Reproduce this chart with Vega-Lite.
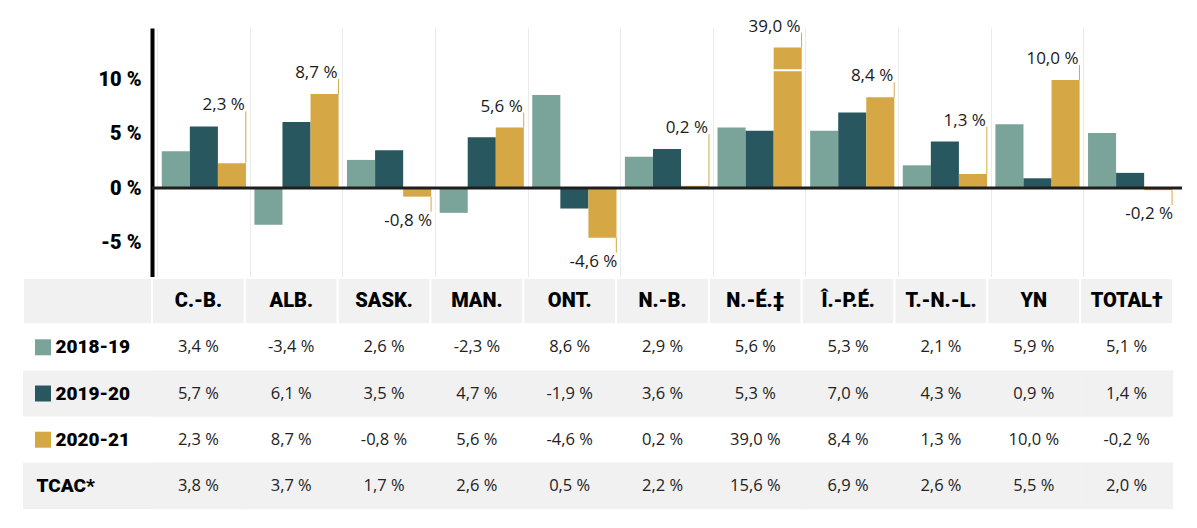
{
  "$schema": "https://vega.github.io/schema/vega-lite/v6.json",
  "background": "white",
  "padding": {"left": 22, "top": 17, "right": 10, "bottom": 10},
  "config": {
    "view": {"stroke": null},
    "font": "Open Sans",
    "locale": {"number": {"decimal": ",", "thousands": " ", "grouping": [3], "currency": ["", " €"], "percent": " %", "minus": "-"}}
  },
  "datasets": {
    "d": [
      {"cat": "C.-B.", "series": "2018-19", "v": 0.034}, {"cat": "C.-B.", "series": "2019-20", "v": 0.057}, {"cat": "C.-B.", "series": "2020-21", "v": 0.023}, {"cat": "C.-B.", "series": "TCAC*", "v": 0.038},
      {"cat": "ALB.", "series": "2018-19", "v": -0.034}, {"cat": "ALB.", "series": "2019-20", "v": 0.061}, {"cat": "ALB.", "series": "2020-21", "v": 0.087}, {"cat": "ALB.", "series": "TCAC*", "v": 0.037},
      {"cat": "SASK.", "series": "2018-19", "v": 0.026}, {"cat": "SASK.", "series": "2019-20", "v": 0.035}, {"cat": "SASK.", "series": "2020-21", "v": -0.008}, {"cat": "SASK.", "series": "TCAC*", "v": 0.017},
      {"cat": "MAN.", "series": "2018-19", "v": -0.023}, {"cat": "MAN.", "series": "2019-20", "v": 0.047}, {"cat": "MAN.", "series": "2020-21", "v": 0.056}, {"cat": "MAN.", "series": "TCAC*", "v": 0.026},
      {"cat": "ONT.", "series": "2018-19", "v": 0.086}, {"cat": "ONT.", "series": "2019-20", "v": -0.019}, {"cat": "ONT.", "series": "2020-21", "v": -0.046}, {"cat": "ONT.", "series": "TCAC*", "v": 0.005},
      {"cat": "N.-B.", "series": "2018-19", "v": 0.029}, {"cat": "N.-B.", "series": "2019-20", "v": 0.036}, {"cat": "N.-B.", "series": "2020-21", "v": 0.002}, {"cat": "N.-B.", "series": "TCAC*", "v": 0.022},
      {"cat": "N.-É.‡", "series": "2018-19", "v": 0.056}, {"cat": "N.-É.‡", "series": "2019-20", "v": 0.053}, {"cat": "N.-É.‡", "series": "2020-21", "v": 0.39}, {"cat": "N.-É.‡", "series": "TCAC*", "v": 0.156},
      {"cat": "Î.-P.É.", "series": "2018-19", "v": 0.053}, {"cat": "Î.-P.É.", "series": "2019-20", "v": 0.07}, {"cat": "Î.-P.É.", "series": "2020-21", "v": 0.084}, {"cat": "Î.-P.É.", "series": "TCAC*", "v": 0.069},
      {"cat": "T.-N.-L.", "series": "2018-19", "v": 0.021}, {"cat": "T.-N.-L.", "series": "2019-20", "v": 0.043}, {"cat": "T.-N.-L.", "series": "2020-21", "v": 0.013}, {"cat": "T.-N.-L.", "series": "TCAC*", "v": 0.026},
      {"cat": "YN", "series": "2018-19", "v": 0.059}, {"cat": "YN", "series": "2019-20", "v": 0.009}, {"cat": "YN", "series": "2020-21", "v": 0.1}, {"cat": "YN", "series": "TCAC*", "v": 0.055},
      {"cat": "TOTAL†", "series": "2018-19", "v": 0.051}, {"cat": "TOTAL†", "series": "2019-20", "v": 0.014}, {"cat": "TOTAL†", "series": "2020-21", "v": -0.002}, {"cat": "TOTAL†", "series": "TCAC*", "v": 0.02}
    ]
  },
  "columns": 2,
  "spacing": 0,
  "bounds": "flush",
  "concat": [
    {
      "width": 129, "height": 250,
      "data": {"values": [{}]},
      "mark": {"type": "point", "opacity": 0},
      "encoding": {}
    },
    {
      "width": 1030, "height": 250,
      "data": {"name": "d"},
      "transform": [
        {"filter": "datum.series !== 'TCAC*'"},
        {"calculate": "min(datum.v, 0.13)", "as": "vd"}
      ],
      "layer": [
        {
          "mark": {"type": "bar"},
          "encoding": {
            "x": {"field": "cat", "type": "nominal", "sort": ["C.-B.","ALB.","SASK.","MAN.","ONT.","N.-B.","N.-É.‡","Î.-P.É.","T.-N.-L.","YN","TOTAL†"], "scale": {"paddingInner": 0, "paddingOuter": 0.06}, "axis": {"title": null, "labels": false, "ticks": false, "domain": false, "grid": true, "bandPosition": 0, "gridColor": "#ebebeb", "gridWidth": 1}},
            "xOffset": {"field": "series", "type": "nominal", "sort": ["2018-19","2019-20","2020-21"], "scale": {"paddingInner": 0, "paddingOuter": 0.15}},
            "y": {"field": "vd", "type": "quantitative", "scale": {"domain": [-0.0833, 0.1481], "nice": false, "zero": false}, "axis": {"title": null, "values": [-0.05, 0, 0.05, 0.1], "format": ".0%", "labelFont": "Roboto", "labelFontWeight": 900, "labelFontSize": 20, "labelColor": "#000", "labelPadding": 11, "ticks": false, "grid": false, "domainColor": "#000", "domainWidth": 4}},
            "color": {"field": "series", "type": "nominal", "scale": {"domain": ["2018-19","2019-20","2020-21"], "range": ["#7aa39a", "#28575f", "#d5a845"]}, "legend": null}
          }
        },
        {
          "data": {"values": [{}]},
          "mark": {"type": "rule", "color": "#1e1e1e", "strokeWidth": 3},
          "encoding": {"y": {"datum": 0, "type": "quantitative", "scale": {"domain": [-0.0833, 0.1481], "nice": false, "zero": false}}}
        },
        {
          "transform": [{"filter": "datum.v > 0.13"}],
          "mark": {"type": "tick", "color": "white", "thickness": 2, "size": 30, "opacity": 1},
          "encoding": {
            "x": {"field": "cat", "type": "nominal", "sort": ["C.-B.","ALB.","SASK.","MAN.","ONT.","N.-B.","N.-É.‡","Î.-P.É.","T.-N.-L.","YN","TOTAL†"]},
            "xOffset": {"field": "series", "type": "nominal", "sort": ["2018-19","2019-20","2020-21"]},
            "y": {"datum": 0.109, "type": "quantitative", "scale": {"domain": [-0.0833, 0.1481], "nice": false, "zero": false}}
          }
        },
        {
          "transform": [
            {"filter": "datum.series !== '2018-19'"},
            {"joinaggregate": [{"op": "max", "field": "vd", "as": "mx"}], "groupby": ["cat"]},
            {"filter": "datum.series === '2020-21'"},
            {"calculate": "datum.v >= 0 ? datum.mx : datum.vd", "as": "anchor"}
          ],
          "layer": [
            {
              "transform": [{"filter": "datum.v >= 0"}],
              "mark": {"type": "rule", "color": "#d5a845", "strokeWidth": 1, "y2Offset": -15},
              "encoding": {
                "x": {"field": "cat", "type": "nominal", "sort": ["C.-B.","ALB.","SASK.","MAN.","ONT.","N.-B.","N.-É.‡","Î.-P.É.","T.-N.-L.","YN","TOTAL†"], "bandPosition": 0.953},
                "y": {"field": "vd", "type": "quantitative", "scale": {"domain": [-0.0833, 0.1481], "nice": false, "zero": false}},
                "y2": {"field": "anchor"}
              }
            },
            {
              "transform": [{"filter": "datum.v < 0"}],
              "mark": {"type": "rule", "color": "#d5a845", "strokeWidth": 1, "y2Offset": 15},
              "encoding": {
                "x": {"field": "cat", "type": "nominal", "sort": ["C.-B.","ALB.","SASK.","MAN.","ONT.","N.-B.","N.-É.‡","Î.-P.É.","T.-N.-L.","YN","TOTAL†"], "bandPosition": 0.953},
                "y": {"field": "vd", "type": "quantitative", "scale": {"domain": [-0.0833, 0.1481], "nice": false, "zero": false}},
                "y2": {"field": "anchor"}
              }
            },
            {
              "transform": [{"filter": "datum.v >= 0"}],
              "mark": {"type": "text", "align": "right", "baseline": "alphabetic", "dy": -16, "dx": -1, "font": "Open Sans", "fontSize": 17, "color": "#1a1a1a"},
              "encoding": {
                "x": {"field": "cat", "type": "nominal", "sort": ["C.-B.","ALB.","SASK.","MAN.","ONT.","N.-B.","N.-É.‡","Î.-P.É.","T.-N.-L.","YN","TOTAL†"], "bandPosition": 0.953},
                "y": {"field": "anchor", "type": "quantitative", "scale": {"domain": [-0.0833, 0.1481], "nice": false, "zero": false}},
                "text": {"field": "v", "type": "quantitative", "format": ".1%"}
              }
            },
            {
              "transform": [{"filter": "datum.v < 0"}],
              "mark": {"type": "text", "align": "right", "baseline": "top", "dy": 16, "dx": 1, "font": "Open Sans", "fontSize": 17, "color": "#1a1a1a"},
              "encoding": {
                "x": {"field": "cat", "type": "nominal", "sort": ["C.-B.","ALB.","SASK.","MAN.","ONT.","N.-B.","N.-É.‡","Î.-P.É.","T.-N.-L.","YN","TOTAL†"], "bandPosition": 0.953},
                "y": {"field": "anchor", "type": "quantitative", "scale": {"domain": [-0.0833, 0.1481], "nice": false, "zero": false}},
                "text": {"field": "v", "type": "quantitative", "format": ".1%"}
              }
            }
          ]
        }
      ]
    },
    {
      "width": 129, "height": 231,
      "data": {"name": "d"},
      "transform": [{"filter": "datum.cat === 'C.-B.'"}],
      "layer": [
        {
          "transform": [{"filter": "datum.series === '2019-20' || datum.series === 'TCAC*'"}],
          "mark": {"type": "rect", "color": "#f1f1f1"},
          "encoding": {"y": {"field": "series", "type": "nominal", "scale": {"domain": ["hdr","2018-19","2019-20","2020-21","TCAC*"], "paddingInner": 0, "paddingOuter": 0}, "axis": null}}
        },
        {
          "transform": [{"filter": "datum.series === 'TCAC*'"}],
          "mark": {"type": "rect", "color": "#f1f1f1", "stroke": "white", "strokeWidth": 2},
          "encoding": {"y": {"datum": "hdr", "type": "nominal"}}
        },
        {
          "transform": [{"filter": "datum.series !== 'TCAC*'"}],
          "mark": {"type": "point", "shape": "square", "filled": true, "size": 256, "opacity": 1, "xOffset": -44.5},
          "encoding": {
            "y": {"field": "series", "type": "nominal"},
            "color": {"field": "series", "type": "nominal", "scale": {"domain": ["2018-19","2019-20","2020-21"], "range": ["#7aa39a", "#28575f", "#d5a845"]}, "legend": null}
          }
        },
        {
          "transform": [{"filter": "datum.series !== 'TCAC*'"}],
          "mark": {"type": "text", "align": "left", "baseline": "middle", "dx": -32, "font": "Roboto", "fontWeight": 900, "fontSize": 19, "color": "#000"},
          "encoding": {"y": {"field": "series", "type": "nominal"}, "text": {"field": "series"}}
        },
        {
          "transform": [{"filter": "datum.series === 'TCAC*'"}],
          "mark": {"type": "text", "align": "left", "baseline": "middle", "dx": -51, "font": "Roboto", "fontWeight": 900, "fontSize": 19, "color": "#000"},
          "encoding": {"y": {"field": "series", "type": "nominal"}, "text": {"field": "series"}}
        }
      ]
    },
    {
      "width": 1021, "height": 231,
      "data": {"name": "d"},
      "layer": [
        {
          "transform": [{"filter": "datum.series === '2019-20' || datum.series === 'TCAC*'"}],
          "mark": {"type": "rect", "color": "#f1f1f1", "stroke": "#f1f1f1", "strokeWidth": 0.5},
          "encoding": {
            "x": {"field": "cat", "type": "nominal", "sort": ["C.-B.","ALB.","SASK.","MAN.","ONT.","N.-B.","N.-É.‡","Î.-P.É.","T.-N.-L.","YN","TOTAL†"], "scale": {"paddingInner": 0, "paddingOuter": 0}, "axis": null},
            "y": {"field": "series", "type": "nominal", "scale": {"domain": ["hdr","2018-19","2019-20","2020-21","TCAC*"], "paddingInner": 0, "paddingOuter": 0}, "axis": null}
          }
        },
        {
          "transform": [{"filter": "datum.series === 'TCAC*'"}],
          "mark": {"type": "rect", "color": "#f1f1f1", "stroke": "white", "strokeWidth": 2},
          "encoding": {
            "x": {"field": "cat", "type": "nominal", "sort": ["C.-B.","ALB.","SASK.","MAN.","ONT.","N.-B.","N.-É.‡","Î.-P.É.","T.-N.-L.","YN","TOTAL†"]},
            "y": {"datum": "hdr", "type": "nominal"}
          }
        },
        {
          "transform": [{"filter": "datum.series === 'TCAC*'"}],
          "mark": {"type": "text", "font": "Roboto", "fontWeight": 900, "fontSize": 20, "color": "#000"},
          "encoding": {
            "x": {"field": "cat", "type": "nominal", "sort": ["C.-B.","ALB.","SASK.","MAN.","ONT.","N.-B.","N.-É.‡","Î.-P.É.","T.-N.-L.","YN","TOTAL†"]},
            "y": {"datum": "hdr", "type": "nominal"},
            "text": {"field": "cat"}
          }
        },
        {
          "mark": {"type": "text", "font": "Open Sans", "fontSize": 16.5, "color": "#222"},
          "encoding": {
            "x": {"field": "cat", "type": "nominal", "sort": ["C.-B.","ALB.","SASK.","MAN.","ONT.","N.-B.","N.-É.‡","Î.-P.É.","T.-N.-L.","YN","TOTAL†"]},
            "y": {"field": "series", "type": "nominal"},
            "text": {"field": "v", "type": "quantitative", "format": ".1%"}
          }
        }
      ]
    }
  ]
}
